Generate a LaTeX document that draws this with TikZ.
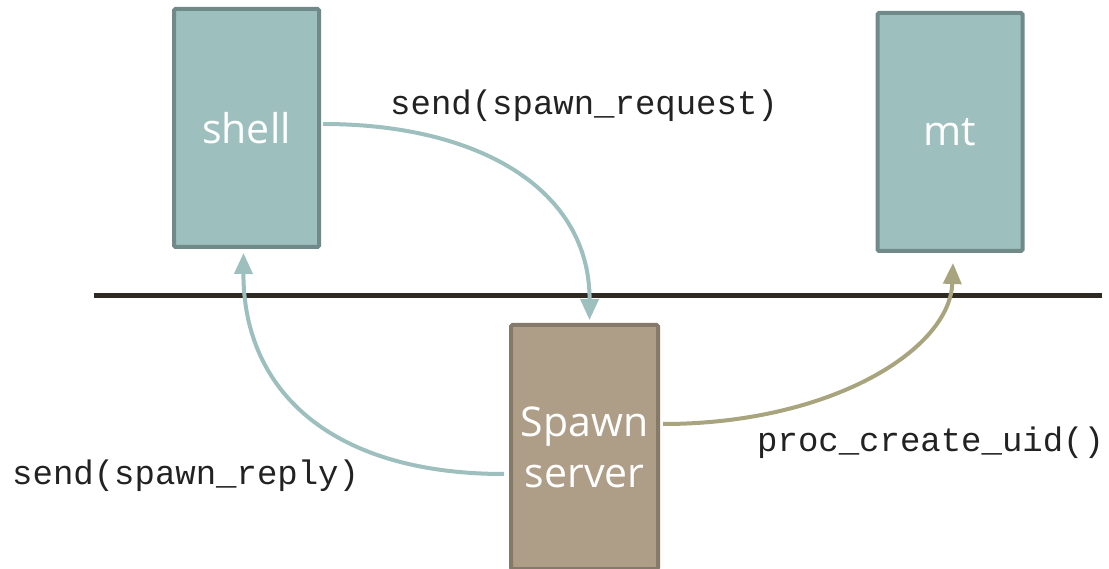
\documentclass[tikz,border=0pt]{standalone}
\usepackage{fontspec}
\setmainfont{Open Sans}
\setmonofont{Liberation Mono}
\usetikzlibrary{arrows.meta,calc}
\definecolor{tealfill}{HTML}{9DBFBE}
\definecolor{tealdraw}{HTML}{6F8A89}
\definecolor{brownfill}{HTML}{AE9E88}
\definecolor{browndraw}{HTML}{857A6A}
\definecolor{olivearrow}{HTML}{A8A47E}
\definecolor{barline}{HTML}{2E2A22}
\definecolor{monotext}{HTML}{222222}
\tikzset{
  procbox/.style={draw=tealdraw, fill=tealfill, line width=4pt, rounded corners=1.5pt,
    minimum width=145pt, minimum height=238pt, inner sep=0pt, text=white,
    font=\fontsize{41}{51}\selectfont},
  serverbox/.style={procbox, draw=browndraw, fill=brownfill, minimum width=147pt, minimum height=244pt, align=center},
  msg/.style={line width=4pt, draw=tealfill, -{Triangle[length=21pt,width=18pt]}},
  msgolive/.style={msg, draw=olivearrow},
  lbl/.style={font=\ttfamily\fontsize{34}{38}\selectfont, text=monotext, inner sep=0pt}
}
\begin{document}
\begin{tikzpicture}[x=1pt,y=-1pt]
\useasboundingbox (0,0) rectangle (1109,569);
\draw[barline, line width=5pt] (94,296) coordinate (barL) -- (1102,296) coordinate (barR);
\node[procbox] (shell) at (246.5,128) {shell};
\node[procbox] (mt) at (950,132) {mt};
\node[serverbox] (spawn) at (584.5,447) {Spawn\\server};
\draw[msg] (shell.east) ++(2,-4) .. controls (480,124) and (590,190) .. ($(spawn.north)+(5,-3)$);
\draw[msg] ($(spawn.west)+(-5,27)$) .. controls (330,474) and (243,390) .. ($(shell.south)+(-3,4)$);
\draw[msgolive] ($(spawn.east)+(3,-23)$) .. controls (830,424) and (950,350) .. ($(mt.south)+(3,10)$);
\node[lbl, anchor=west] (l1) at (390,106) {send(spawn\_request)};
\node[lbl, anchor=west] (l2) at (12,476) {send(spawn\_reply)};
\node[lbl, anchor=west] (l3) at (757,443) {proc\_create\_uid()};
\end{tikzpicture}
\end{document}
